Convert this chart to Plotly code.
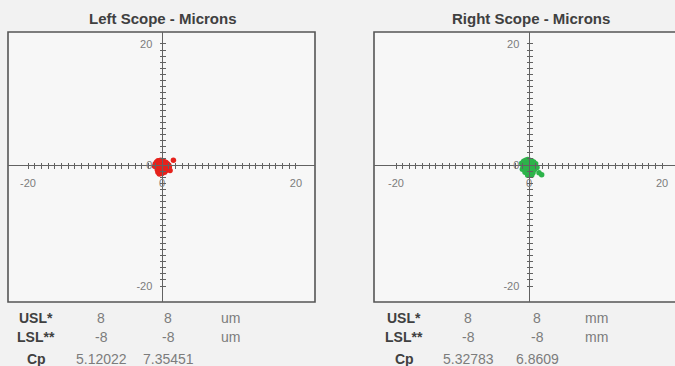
import plotly.graph_objects as go

# ---------------- data ----------------
panel_titles = ["Left Scope - Microns", "Right Scope - Microns"]
tick_label_values = [-20, 0, 20]
tick_values = list(range(-20, 21))

left_x = [-1.0, -0.8, -0.6, -0.4, -0.2, 0.0, 0.2, 0.4, 0.6, 0.8, 1.0, -0.9, -0.5, -0.1, 0.3,
          0.7, 1.1, -0.7, -0.3, 0.1, 0.5, 0.9, -0.6, -0.2, 0.2, 0.6, -0.4, 0.0, 0.4, 1.7, 1.2, -1.1]
left_y = [0.2, 0.5, 0.7, 0.6, 0.8, 0.7, 0.6, 0.5, 0.4, 0.2, 0.0, -0.3, -0.2, -0.1, 0.1,
          -0.2, -0.3, -0.8, -0.7, -0.5, -0.6, -0.5, -1.2, -1.3, -1.1, -0.9, -1.5, -1.4, -1.2, 0.8, -0.9, -0.2]

right_x = [-1.1, -0.8, -0.5, -0.2, 0.1, 0.4, 0.7, 1.0, -0.9, -0.6, -0.3, 0.0, 0.3, 0.6, 0.9, 1.2,
           -1.0, -0.7, -0.4, -0.1, 0.2, 0.5, 0.8, -0.6, -0.3, 0.0, 0.3, 0.6, -0.2, 0.1, 1.5, 1.9, 0.4]
right_y = [0.3, 0.6, 0.8, 0.9, 0.8, 0.7, 0.5, 0.2, -0.2, 0.0, 0.1, 0.2, 0.0, -0.1, -0.2, -0.4,
           -0.7, -0.6, -0.5, -0.4, -0.6, -0.7, -0.8, -1.2, -1.3, -1.1, -1.0, -1.3, -1.7, -1.6, -1.3, -1.6, -1.7]

row_labels = ["USL*", "LSL**", "Cp"]
left_usl = [8, 8]
left_lsl = [-8, -8]
left_cp = [5.12022, 7.35451]
left_unit = "um"
right_usl = [8, 8]
right_lsl = [-8, -8]
right_cp = [5.32783, 6.8609]
right_unit = "mm"

# ---------------- layout constants ----------------
W, H = 675, 366
BG = "#f2f2f2"
PLOT_BG = "#f7f7f7"
AXIS_COL = "#626262"
LABEL_COL = "#7c7c7c"
DARK = "#404040"
FONT = "Liberation Sans"


def px_x(p):
    return p / W


def px_y(p):
    return 1 - p / H


panels = [
    dict(xdom=[px_x(8), px_x(315)], xr=[-22.99, 22.84], ydom=[px_y(302), px_y(32)], yr=[-22.64, 21.98],
         x=left_x, y=left_y, color="#e5221c", usl=left_usl, lsl=left_lsl, cp=left_cp, unit=left_unit,
         label_x=36, col1=101, col2=168, unit_x=230, title_x=163, frame_x1=1.0),
    dict(xdom=[px_x(374), 1.0], xr=[-23.31, 21.95], ydom=[px_y(302), px_y(32)], yr=[-22.64, 21.98],
         x=right_x, y=right_y, color="#2db34a", usl=right_usl, lsl=right_lsl, cp=right_cp, unit=right_unit,
         label_x=404, col1=468, col2=537, unit_x=596, title_x=531, frame_x1=1.2),
]

fig = go.Figure()
layout = dict(
    width=W, height=H, margin=dict(l=0, r=0, t=0, b=0),
    paper_bgcolor=BG, plot_bgcolor="rgba(0,0,0,0)", showlegend=False,
    font=dict(family=FONT, size=9, color=LABEL_COL),
)
shapes = []
annotations = []

ticktext = [str(v) if v in tick_label_values else "" for v in tick_values]

for i, p in enumerate(panels):
    n_main = i + 1          # 1, 2
    n_over = i + 3          # 3, 4
    xm = "x" if n_main == 1 else f"x{n_main}"
    ym = "y" if n_main == 1 else f"y{n_main}"
    xo = f"x{n_over}"
    yo = f"y{n_over}"

    x_zero_pos = p["xdom"][0] + (0 - p["xr"][0]) / (p["xr"][1] - p["xr"][0]) * (p["xdom"][1] - p["xdom"][0])
    y_zero_pos = p["ydom"][0] + (0 - p["yr"][0]) / (p["yr"][1] - p["yr"][0]) * (p["ydom"][1] - p["ydom"][0])

    # frame background + border
    shapes.append(dict(type="rect", xref=f"{xm} domain", yref=f"{ym} domain", x0=0, x1=p["frame_x1"], y0=0, y1=1,
                       line=dict(color="#555555", width=1.6), fillcolor=PLOT_BG, layer="below"))

    common = dict(showgrid=False, zeroline=False, fixedrange=True)
    layout["xaxis" + ("" if n_main == 1 else str(n_main))] = dict(
        domain=p["xdom"], range=p["xr"], anchor="free", position=y_zero_pos,
        showline=True, linecolor=AXIS_COL, linewidth=1,
        tickmode="array", tickvals=tick_values, ticktext=ticktext,
        ticks="outside", ticklen=2.5, tickcolor=AXIS_COL, tickwidth=1, ticklabelstandoff=5,
        tickfont=dict(size=11, color=LABEL_COL), **common)
    layout["yaxis" + ("" if n_main == 1 else str(n_main))] = dict(
        domain=p["ydom"], range=p["yr"], anchor="free", position=x_zero_pos,
        showline=True, linecolor=AXIS_COL, linewidth=1,
        tickmode="array", tickvals=tick_values, ticktext=ticktext,
        ticks="outside", ticklen=2.5, tickcolor=AXIS_COL, tickwidth=1, ticklabelstandoff=5,
        tickfont=dict(size=11, color=LABEL_COL), **common)
    layout[f"xaxis{n_over}"] = dict(
        overlaying=xm, range=p["xr"], anchor="free", position=y_zero_pos,
        showline=False, tickmode="array", tickvals=tick_values, showticklabels=False,
        ticks="inside", ticklen=2.5, tickcolor=AXIS_COL, tickwidth=1, **common)
    layout[f"yaxis{n_over}"] = dict(
        overlaying=ym, range=p["yr"], anchor="free", position=x_zero_pos,
        showline=False, tickmode="array", tickvals=tick_values, showticklabels=False,
        ticks="inside", ticklen=2.5, tickcolor=AXIS_COL, tickwidth=1, **common)

    fig.add_trace(go.Scatter(x=[], y=[], xaxis=xo, yaxis=yo, hoverinfo="skip"))
    fig.add_trace(go.Scatter(x=p["x"], y=p["y"], mode="markers", xaxis=xm, yaxis=ym,
                             marker=dict(color=p["color"], size=5.5, line=dict(width=0))))

    # title
    annotations.append(dict(text=f"<b>{panel_titles[i]}</b>", xref="paper", yref="paper",
                            x=px_x(p["title_x"]), y=px_y(18), showarrow=False,
                            xanchor="center", yanchor="middle",
                            font=dict(size=15, color=DARK, family=FONT)))

    # stats table
    rows = [
        (row_labels[0], p["usl"], p["unit"], 318),
        (row_labels[1], p["lsl"], p["unit"], 337),
        (row_labels[2], p["cp"], None, 359),
    ]
    for label, vals, unit, ypx in rows:
        annotations.append(dict(text=f"<b>{label}</b>", xref="paper", yref="paper", x=px_x(p["label_x"]),
                                y=px_y(ypx), showarrow=False, xanchor="center", yanchor="middle",
                                font=dict(size=14, color=DARK, family=FONT)))
        for v, cx in zip(vals, [p["col1"], p["col2"]]):
            annotations.append(dict(text=str(v), xref="paper", yref="paper", x=px_x(cx), y=px_y(ypx),
                                    showarrow=False, xanchor="center", yanchor="middle",
                                    font=dict(size=14, color=LABEL_COL, family=FONT)))
        if unit:
            annotations.append(dict(text=unit, xref="paper", yref="paper", x=px_x(p["unit_x"]), y=px_y(ypx),
                                    showarrow=False, xanchor="center", yanchor="middle",
                                    font=dict(size=14, color=LABEL_COL, family=FONT)))

layout["shapes"] = shapes
layout["annotations"] = annotations
fig.update_layout(**layout)
fig.write_html("out.html", config={"displayModeBar": False},
               post_script="document.body.style.margin='0';document.body.style.overflow='hidden';")
